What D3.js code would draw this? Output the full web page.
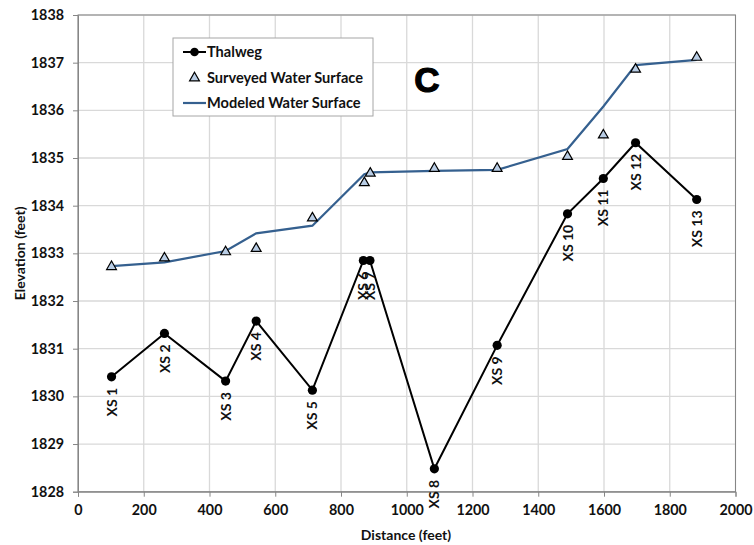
<!DOCTYPE html>
<html><head><meta charset="utf-8">
<script src="https://cdn.jsdelivr.net/npm/d3@7"></script>
<style>
html,body{margin:0;padding:0;background:#fff;}
text{font-family:Lato,"Open Sans",sans-serif;font-weight:bold;}
</style></head>
<body>
<svg id="chart" width="754" height="545"></svg>
<script>
// ---- data ----
const xsLabels = ["XS 1","XS 2","XS 3","XS 4","XS 5","XS 6","XS 7","XS 8","XS 9","XS 10","XS 11","XS 12","XS 13"];
const distance = [102, 263, 449, 542, 713, 868, 888, 1084, 1275, 1489, 1598, 1696, 1882];
const thalweg = [1830.41, 1831.32, 1830.32, 1831.58, 1830.13, 1832.85, 1832.85, 1828.48, 1831.07, 1833.83, 1834.57, 1835.32, 1834.13];
const surveyedDistance = [102, 263, 449, 542, 713, 871, 889, 1084, 1275, 1489, 1598, 1696, 1882];
const surveyedWS = [1832.72, 1832.90, 1833.03, 1833.10, 1833.74, 1834.48, 1834.68, 1834.78, 1834.78, 1835.03, 1835.48, 1836.86, 1837.11];
const modeledDistance = [102, 263, 449, 542, 713, 871, 889, 1084, 1275, 1489, 1598, 1696, 1882];
const modeledWS = [1832.73, 1832.81, 1833.05, 1833.42, 1833.58, 1834.66, 1834.70, 1834.73, 1834.75, 1835.19, 1836.08, 1836.95, 1837.06];
const xTicks = [0,200,400,600,800,1000,1200,1400,1600,1800,2000];
const yTicks = [1828,1829,1830,1831,1832,1833,1834,1835,1836,1837,1838];
const legendLabels = ["Thalweg","Surveyed Water Surface","Modeled Water Surface"];

// ---- layout ----
const svg = d3.select("#chart");
const L = 78, R = 735.5, T = 15, B = 491.7;
const x = d3.scaleLinear().domain([0,2000]).range([L,R]);
const y = d3.scaleLinear().domain([1828,1838]).range([B,T]);

const gridColor = "#d9d9d9", axisColor = "#868686";

// gridlines
svg.append("g").selectAll("line").data(xTicks).join("line")
  .attr("x1", d=>x(d)).attr("x2", d=>x(d)).attr("y1", T).attr("y2", B)
  .attr("stroke", gridColor).attr("stroke-width", 1.3);
svg.append("g").selectAll("line").data(yTicks).join("line")
  .attr("x1", L).attr("x2", R).attr("y1", d=>y(d)).attr("y2", d=>y(d))
  .attr("stroke", gridColor).attr("stroke-width", 1.3);

// frame
svg.append("rect").attr("x", L).attr("y", T).attr("width", R-L).attr("height", B-T)
  .attr("fill","none").attr("stroke", axisColor).attr("stroke-width", 1);

// axes
const xAxis = svg.append("g").attr("transform", `translate(0,${B})`)
  .call(d3.axisBottom(x).tickValues(xTicks).tickSize(5).tickPadding(8).tickFormat(d3.format("d")));
const yAxis = svg.append("g").attr("transform", `translate(${L},0)`)
  .call(d3.axisLeft(y).tickValues(yTicks).tickSize(5).tickPadding(9).tickFormat(d3.format("d")));
[xAxis, yAxis].forEach(g=>{
  g.select(".domain").attr("stroke", axisColor);
  g.selectAll(".tick line").attr("stroke", axisColor);
  g.selectAll(".tick text").attr("fill","#111").style("font-size","14.3px").style("font-family","Lato,sans-serif").style("font-weight","bold");
});

// modeled water surface
svg.append("path").datum(d3.zip(modeledDistance, modeledWS))
  .attr("fill","none").attr("stroke","#35608f").attr("stroke-width",2.2)
  .attr("d", d3.line().x(d=>x(d[0])).y(d=>y(d[1])));

// thalweg
const tdata = d3.zip(distance, thalweg, xsLabels);
svg.append("path").datum(tdata)
  .attr("fill","none").attr("stroke","#000").attr("stroke-width",2)
  .attr("d", d3.line().x(d=>x(d[0])).y(d=>y(d[1])));
svg.append("g").selectAll("circle").data(tdata).join("circle")
  .attr("cx", d=>x(d[0])).attr("cy", d=>y(d[1])).attr("r", 4.6).attr("fill","#000");

// surveyed triangles
const tri = d3.symbol().type(d3.symbolTriangle).size(42);
svg.append("g").selectAll("path").data(d3.zip(surveyedDistance, surveyedWS)).join("path")
  .attr("d", tri).attr("transform", d=>`translate(${x(d[0])},${y(d[1])})`)
  .attr("fill","#b9cde5").attr("stroke","#000").attr("stroke-width",1.2);

// XS labels
svg.append("g").selectAll("text").data(tdata).join("text")
  .attr("transform", d=>`translate(${x(d[0])},${y(d[1])+11}) rotate(-90)`)
  .attr("text-anchor","end").attr("dy","0.36em")
  .style("font-size","14px").attr("fill","#111").text(d=>d[2]);

// axis titles
svg.append("text").attr("x", 406).attr("y", 540).attr("text-anchor","middle")
  .style("font-size","14px").attr("fill","#111").text("Distance (feet)");
svg.append("text").attr("transform", `translate(20,${(T+B)/2}) rotate(-90)`)
  .attr("text-anchor","middle").attr("dy","0.36em")
  .style("font-size","14px").attr("fill","#111").text("Elevation (feet)");

// big C
svg.append("text").attr("x", 427).attr("y", 92).attr("text-anchor","middle")
  .style("font-family","'Liberation Sans',Arial,sans-serif").style("font-weight","900")
  .style("font-size","35px").attr("fill","#000").attr("stroke","#000").attr("stroke-width",1.2).text("C");

// legend
const lg = svg.append("g");
lg.append("rect").attr("x",173).attr("y",38).attr("width",200).attr("height",78)
  .attr("fill","#fff").attr("stroke","#a6a6a6").attr("stroke-width",1);
const ly = [52, 78, 103];
lg.append("line").attr("x1",183).attr("x2",206).attr("y1",ly[0]).attr("y2",ly[0]).attr("stroke","#000").attr("stroke-width",2);
lg.append("circle").attr("cx",194.5).attr("cy",ly[0]).attr("r",4.3).attr("fill","#000");
lg.append("path").attr("d",tri).attr("transform",`translate(194.5,${ly[1]})`).attr("fill","#b9cde5").attr("stroke","#000").attr("stroke-width",1.2);
lg.append("line").attr("x1",183).attr("x2",206).attr("y1",ly[2]).attr("y2",ly[2]).attr("stroke","#35608f").attr("stroke-width",2.2);
lg.selectAll("text.l").data(legendLabels).join("text").attr("class","l")
  .attr("x",207).attr("y",(d,i)=>ly[i]).attr("dy","0.36em")
  .style("font-size","14.6px").attr("fill","#111").text(d=>d);
</script>
</body></html>
